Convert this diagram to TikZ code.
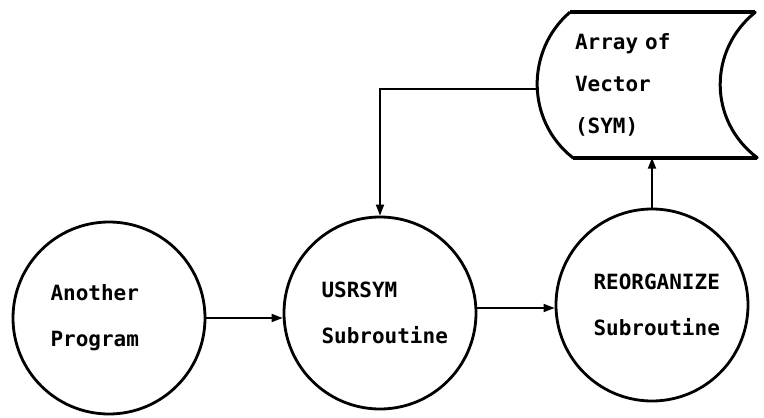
\documentclass[tikz,border=0pt]{standalone}
\usepackage{fontspec}
\setmonofont{DejaVu Sans Mono}
\usetikzlibrary{arrows.meta,positioning}

\begin{document}
\begin{tikzpicture}[x=1pt, y=-1pt,
    proc/.style={circle, draw, line width=2.8pt, minimum size=192pt, inner sep=0pt,
        text width=117pt, align=left, font=\ttfamily\bfseries\fontsize{21}{46}\selectfont},
    store/.style={rectangle, minimum width=220pt, minimum height=145pt, inner sep=0pt,
        text width=144pt, align=left, font=\ttfamily\bfseries\fontsize{21}{42}\selectfont},
    arr/.style={-{Triangle[length=11pt, width=8pt]}, line width=1.8pt}
]
\useasboundingbox (0,0) rectangle (764,418);

% Processes
\node[proc] (prog) at (109,318) {Another\\Program};
\node[proc] (usrsym) at (380,313) {USRSYM\\Subroutine};
\node[proc] (reorg) at (652,305) {REORGANIZE\\Subroutine};

% Stored data
\node[store] (store) at (647,85) {Array of\\Vector\\(SYM)};
\draw[line width=3pt, line join=round]
    ([xshift=33pt]store.north west) -- ([xshift=-2pt]store.north east)
    .. controls ([xshift=-49pt, yshift=-38pt]store.north east) and ([xshift=-49pt, yshift=37pt]store.south east) .. (store.south east)
    -- ([xshift=36pt]store.south west)
    .. controls ([xshift=-11pt, yshift=37pt]store.south west) and ([xshift=-11pt, yshift=-38pt]store.north west) .. ([xshift=33pt]store.north west);
\draw[line width=4pt] ([xshift=33pt]store.north west) -- ([xshift=-2pt]store.north east);
\draw[line width=4pt] ([xshift=36pt]store.south west) -- (store.south east);

% Flows
\draw[arr] (prog.east) -- (prog.east -| usrsym.west);
\draw[arr] ([yshift=5pt]usrsym.east) -- ([yshift=5pt]usrsym.east -| reorg.west);
\draw[arr] (reorg.north) -- (reorg.north |- store.south);
\draw[arr] ([yshift=-4pt]store.west) -| (usrsym.north);

\end{tikzpicture}
\end{document}
